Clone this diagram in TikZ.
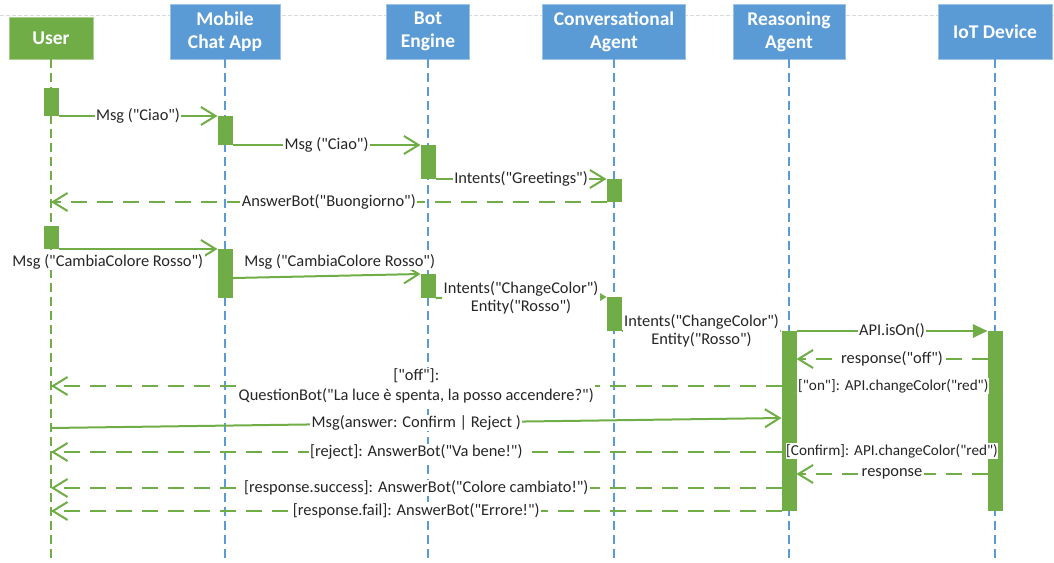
\documentclass[tikz,border=0pt]{standalone}
\usepackage{fontspec}
\setmainfont{Carlito}[Ligatures=TeXOff]
\usetikzlibrary{arrows.meta}
\definecolor{ogreen}{HTML}{70AD47}
\definecolor{oblue}{HTML}{5B9BD5}
\definecolor{txt}{HTML}{262626}
\begin{document}
\begin{tikzpicture}[x=0.75pt,y=-0.75pt,
  hdr/.style={fill=oblue, draw=oblue!60, line width=0.5pt, text=white,
    font=\fontsize{14.6}{17.2}\selectfont\bfseries, align=center, inner sep=0pt,
    minimum height=41.25pt},
  usr/.style={hdr, fill=ogreen, draw=ogreen!60, minimum height=31.5pt},
  lifeline/.style={oblue, line width=1pt, dash pattern=on 6.75pt off 3.75pt},
  ulifeline/.style={lifeline, ogreen},
  bar/.style={fill=ogreen, draw=none, inner sep=0pt, outer sep=0pt, minimum width=11.25pt},
  msg/.style={ogreen, line width=1.5pt, -{Straight Barb[length=11pt,width=13.5pt,line width=1.5pt]}},
  ret/.style={msg, dash pattern=on 12pt off 7.5pt},
  call/.style={ogreen, line width=1.5pt, -{Triangle[length=11pt,width=10pt]}},
  lbl/.style={fill=white, text=txt, inner xsep=1pt, inner ysep=0.5pt,
    font=\fontsize{12.3}{13.5}\selectfont},
  guard/.style={lbl, inner xsep=0.5pt, font=\fontsize{11.4}{13}\selectfont},
  topline/.style={black!15, line width=0.75pt, dash pattern=on 3pt off 1.5pt}
]
\useasboundingbox (0,0) rectangle (1054,563);
\coordinate (bottom) at (0,563);
\draw[topline] (0,16) -- (1054,16);

% headers
\node[usr, minimum width=63pt] (User) at (51,38) {User};
\node[hdr, minimum width=82.5pt] (App) at (225,31.5) {Mobile\\Chat App};
\node[hdr, minimum width=62.25pt] (Bot) at (428,31.5) {Bot\\Engine};
\node[hdr, minimum width=107.25pt] (Conv) at (614,31.5) {Conversational\\Agent};
\node[hdr, minimum width=84pt] (Reas) at (789,31.5) {Reasoning\\Agent};
\node[hdr, minimum width=85.5pt] (IoT) at (995,31.5) {IoT Device};

% lifelines
\draw[ulifeline] (User.south) -- (User.south |- bottom);
\draw[lifeline] (App.south) -- (App.south |- bottom);
\draw[lifeline] (Bot.south) -- (Bot.south |- bottom);
\draw[lifeline] (Conv.south) -- (Conv.south |- bottom);
\draw[lifeline] (Reas.south) -- (Reas.south |- bottom);
\draw[lifeline] (IoT.south) -- (IoT.south |- bottom);

% activation bars
\node[bar, minimum height=21pt] (u1) at (51,102) {};
\node[bar, minimum height=21.75pt] (m1) at (225,130.5) {};
\node[bar, minimum height=25.5pt] (b1) at (428,162) {};
\node[bar, minimum height=17.25pt] (c1) at (614,190.5) {};
\node[bar, minimum height=17.25pt] (u2) at (51,237.5) {};
\node[bar, minimum height=36.75pt] (m2) at (225,273.5) {};
\node[bar, minimum height=18pt] (b2) at (428,286) {};
\node[bar, minimum height=25.5pt] (c2) at (614,314) {};
\node[bar, minimum height=135pt] (r1) at (789,421) {};
\node[bar, minimum height=135pt] (i1) at (995,421) {};

% messages
\draw[msg] (u1.south east) -- node[lbl]{Msg ("Ciao")} (m1.north west);
\draw[msg] (m1.south east) -- node[lbl]{Msg ("Ciao")} (b1.north west);
\draw[msg] (b1.south east) -- node[lbl]{Intents("Greetings")} (c1.north west);
\draw[ret] (c1.south west) -- node[lbl]{AnswerBot("Buongiorno")} (c1.south west -| User);

\draw[msg] (u2.south east) -- node[lbl, pos=0.31, yshift=-9.75pt]{Msg ("CambiaColore Rosso")} (m2.north west);
\draw[msg] ([yshift=-3.4pt]m2.east) -- node[lbl, pos=0.57, yshift=10.5pt]{Msg ("CambiaColore Rosso")} (b2.north west);
\draw[msg] (b2.south east) -- node[lbl, align=center]{Intents("ChangeColor")\\Entity("Rosso")} (c2.north west);
\draw[msg] (c2.south east) -- node[lbl, align=center]{Intents("ChangeColor")\\Entity("Rosso")} (r1.north west);

\draw[call] (r1.north east) -- node[lbl]{API.isOn()} (i1.north west);
\draw[ret] (i1.west |- 0,359) -- node[lbl]{response("off")} (r1.east |- 0,359);
\path (r1.east |- 0,386) -- node[guard, xshift=1pt]{["on"]:\,\,API.changeColor("red")} (i1.west |- 0,386);
\draw[ret] (r1.west |- 0,386) -- node[lbl, align=center, font=\fontsize{12.3}{15}\selectfont]{["off"]:\\QuestionBot("La luce è spenta, la posso accendere?")} (User |- 0,386);
\draw[msg] (User |- 0,428) -- node[lbl]{Msg(answer: Confirm | Reject )} (r1.west |- 0,418);
\draw[ret] (r1.west |- 0,452) -- node[lbl]{[reject]: AnswerBot("Va bene!")} (User |- 0,452);
\path (r1.east |- 0,451) -- node[guard]{[Confirm]:\,\,API.changeColor("red")} (i1.west |- 0,451);
\draw[ret] (i1.west |- 0,474) -- node[lbl]{response} (r1.east |- 0,474);
\draw[ret] (r1.west |- 0,488) -- node[lbl]{[response.success]: AnswerBot("Colore cambiato!")} (User |- 0,488);
\draw[ret] (r1.south west) -- node[lbl]{[response.fail]: AnswerBot("Errore!")} (r1.south west -| User);
\end{tikzpicture}
\end{document}
